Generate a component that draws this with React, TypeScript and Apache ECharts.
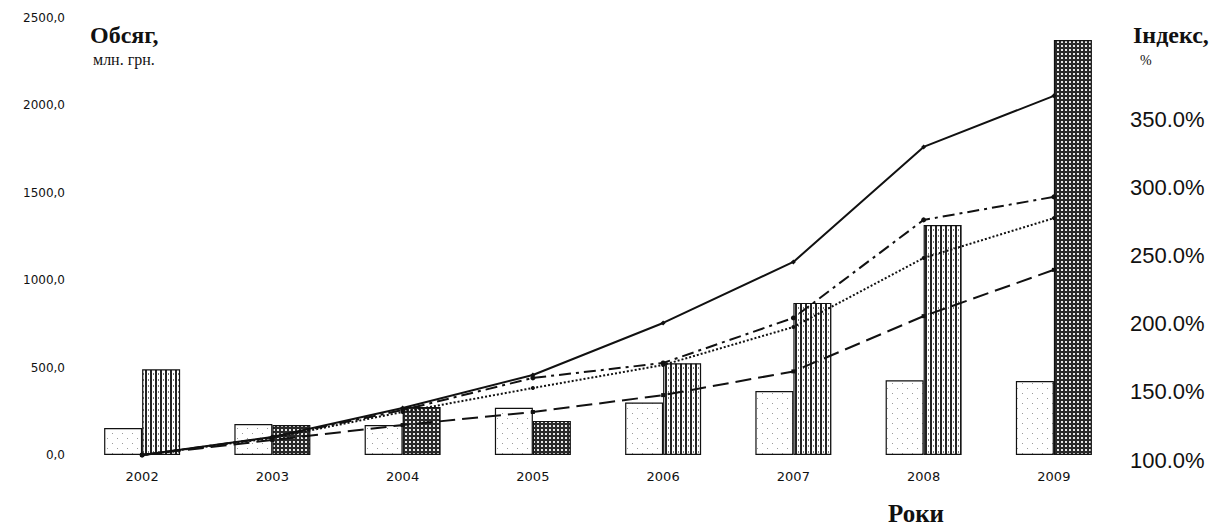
import React, { useEffect, useRef } from "react";
import * as echarts from "echarts";

const years = ["2002", "2003", "2004", "2005", "2006", "2007", "2008", "2009"];
const volumeA = [154, 177, 172, 270, 300, 366, 428, 423];
const volumeB = [490, 171, 275, 195, 525, 870, 1316, 2374];
const patternB = ["lines", "dots", "dots", "dots", "lines", "lines", "lines", "dots"];
const indexSolid = [100, 113.2, 134.5, 158.8, 197, 241.8, 326.3, 363.8];
const indexDashDot = [100, 113, 133, 156.6, 167.6, 200.7, 272.7, 289.6];
const indexDotted = [100, 112.5, 131.6, 149.2, 166.1, 194, 244.7, 274];
const indexDashed = [100, 111, 122, 131.6, 144, 161.4, 202, 236];

function makeCanvas(w: number, h: number, bg: string, draw: (c: CanvasRenderingContext2D) => void) {
  const c = document.createElement("canvas");
  c.width = w;
  c.height = h;
  const ctx = c.getContext("2d")!;
  ctx.fillStyle = bg;
  ctx.fillRect(0, 0, w, h);
  draw(ctx);
  return c;
}

export default function App() {
  const ref = useRef<HTMLDivElement>(null);
  useEffect(() => {
    if (!ref.current) return;
    const chart = echarts.init(ref.current, undefined, { renderer: "svg" });

    const whiteDots = makeCanvas(10, 10, "#ffffff", (ctx) => {
      ctx.fillStyle = "#9a9a9a";
      ctx.fillRect(2, 3, 1, 1);
      ctx.fillRect(7, 8, 1, 1);
    });
    const vLines = makeCanvas(5, 6, "#ffffff", (ctx) => {
      ctx.fillStyle = "#222";
      ctx.fillRect(0, 0, 2, 6);
      ctx.fillStyle = "#777";
      ctx.fillRect(3, 1, 1, 2);
    });
    const crossDots = makeCanvas(4, 4, "#2a2a2a", (ctx) => {
      ctx.fillStyle = "#e8e8e8";
      ctx.fillRect(1, 1, 2, 2);
    });

    const serif = "'Liberation Serif', 'Times New Roman', serif";
    const sans = "'Liberation Sans', Arial, sans-serif";

    const lineCommon = {
      type: "line" as const,
      yAxisIndex: 1,
      z: 5,
      symbolSize: 5,
      itemStyle: { color: "#111" },
    };

    chart.setOption({
      animation: false,
      backgroundColor: "#ffffff",
      grid: { left: 77, right: 107, top: 18, bottom: 72 },
      xAxis: {
        type: "category",
        data: years,
        axisLine: { show: false },
        axisTick: { show: false },
        axisLabel: { color: "#111", fontSize: 13, fontFamily: "'DejaVu Sans', sans-serif", margin: 15 },
      },
      yAxis: [
        {
          type: "value",
          min: 0,
          max: 2500,
          interval: 500,
          axisLine: { show: false },
          axisTick: { show: false },
          splitLine: { show: false },
          axisLabel: {
            color: "#111",
            fontSize: 12,
            fontFamily: "'DejaVu Sans', sans-serif",
            margin: 12,
            formatter: (v: number) => v.toFixed(1).replace(".", ","),
          },
        },
        {
          type: "value",
          min: 100,
          max: 421,
          interval: 50,
          axisLine: { show: false },
          axisTick: { show: false },
          splitLine: { show: false },
          axisLabel: {
            color: "#111",
            fontSize: 22,
            fontFamily: sans,
            margin: 11,
            formatter: (v: number) => (v > 360 ? "" : "{p|" + v.toFixed(1) + "%}"),
            rich: {
              p: {
                fontSize: 22,
                fontFamily: sans,
                color: "#111",
                padding: [10, 0, 0, 0],
              },
            },
          },
        },
      ],
      series: [
        {
          type: "bar",
          name: "A",
          data: volumeA,
          barWidth: 38,
          barGap: "0%",
          itemStyle: {
            color: { image: whiteDots, repeat: "repeat" } as any,
            borderColor: "#111",
            borderWidth: 1.2,
          },
        },
        {
          type: "bar",
          name: "B",
          barWidth: 38,
          barGap: "0%",
          data: volumeB.map((v, i) => ({
            value: v,
            itemStyle: {
              color: { image: patternB[i] === "lines" ? vLines : crossDots, repeat: "repeat" } as any,
              borderColor: "#111",
              borderWidth: 1.2,
            },
          })),
        },
        {
          ...lineCommon,
          name: "solid",
          data: indexSolid,
          symbol: "diamond",
          lineStyle: { color: "#111", width: 2, type: "solid" },
        },
        {
          ...lineCommon,
          name: "dashdot",
          data: indexDashDot,
          symbol: "circle",
          lineStyle: { color: "#111", width: 2, type: [12, 5, 3, 5] },
        },
        {
          ...lineCommon,
          name: "dotted",
          data: indexDotted,
          symbol: "circle",
          symbolSize: 4,
          lineStyle: { color: "#111", width: 2, type: [2, 2] },
        },
        {
          ...lineCommon,
          name: "dashed",
          data: indexDashed,
          symbol: "rect",
          symbolSize: 4,
          lineStyle: { color: "#111", width: 2, type: [16, 7] },
        },
      ],
      graphic: [
        {
          type: "text",
          left: 90,
          top: 23,
          style: { text: "Обсяг,", font: `bold 24px ${serif}`, fill: "#111" },
        },
        {
          type: "text",
          left: 93,
          top: 51,
          style: { text: "млн. грн.", font: `16px ${serif}`, fill: "#111" },
        },
        {
          type: "text",
          left: 1133,
          top: 23,
          style: { text: "Індекс,", font: `bold 24px ${serif}`, fill: "#111" },
        },
        {
          type: "text",
          left: 1140,
          top: 53,
          style: { text: "%", font: `14px ${serif}`, fill: "#111" },
        },
        {
          type: "text",
          left: 888,
          top: 501,
          style: { text: "Роки", font: `bold 25px ${serif}`, fill: "#111" },
        },
      ],
    });
    return () => chart.dispose();
  }, []);
  return (
    <div
      ref={ref}
      style={{ position: "fixed", left: 0, top: 0, width: 1226, height: 527, background: "#fff" }}
    />
  );
}
